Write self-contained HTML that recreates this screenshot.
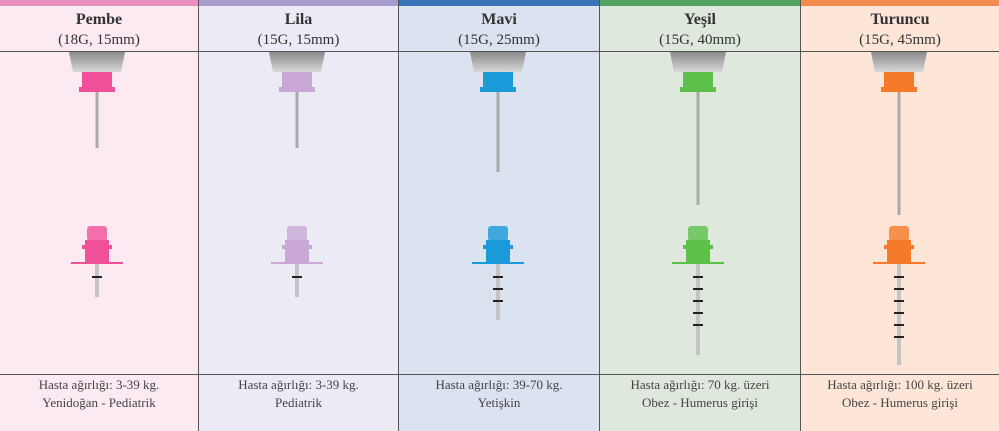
<!DOCTYPE html><html><head><meta charset="utf-8"><style>
body{margin:0;width:999px;height:431px;overflow:hidden;font-family:"Liberation Serif",serif}
.c{position:absolute;top:0;height:431px;box-sizing:border-box;border-right:1px solid #555}
.bar{height:6px}
.h{position:absolute;top:10px;width:100%;text-align:center;color:#333;font-size:15px;line-height:20px}
.h b{font-size:16px}
.f{position:absolute;top:376px;width:100%;text-align:center;color:#444;font-size:13px;line-height:18px}
.l1{position:absolute;left:0;top:51px;width:999px;height:1px;background:#555}
.l2{position:absolute;left:0;top:374px;width:999px;height:1px;background:#555}
svg{position:absolute;left:0;top:0}
</style></head><body>
<div class="c" style="left:0;width:199px;background:#fbeaf2"><div class="bar" style="background:#e98fbf"></div><div class="h"><b>Pembe</b><br>(18G, 15mm)</div><div class="f">Hasta ağırlığı: 3-39 kg.<br>Yenidoğan - Pediatrik</div></div>
<div class="c" style="left:199px;width:200px;background:#ecebf5"><div class="bar" style="background:#a89ccc"></div><div class="h"><b>Lila</b><br>(15G, 15mm)</div><div class="f">Hasta ağırlığı: 3-39 kg.<br>Pediatrik</div></div>
<div class="c" style="left:399px;width:201px;background:#dbe2f0"><div class="bar" style="background:#3a74b7"></div><div class="h"><b>Mavi</b><br>(15G, 25mm)</div><div class="f">Hasta ağırlığı: 39-70 kg.<br>Yetişkin</div></div>
<div class="c" style="left:600px;width:201px;background:#dfe8dc"><div class="bar" style="background:#52a462"></div><div class="h"><b>Yeşil</b><br>(15G, 40mm)</div><div class="f">Hasta ağırlığı: 70 kg. üzeri<br>Obez - Humerus girişi</div></div>
<div class="c" style="left:801px;width:198px;background:#fde6d8;border-right:none"><div class="bar" style="background:#f08a4e"></div><div class="h"><b>Turuncu</b><br>(15G, 45mm)</div><div class="f">Hasta ağırlığı: 100 kg. üzeri<br>Obez - Humerus girişi</div></div>
<div class="l1"></div><div class="l2"></div>
<svg width="999" height="431">
<defs><linearGradient id="g" x1="0" y1="0" x2="0" y2="1"><stop offset="0" stop-color="#8a8a8a"/><stop offset="1" stop-color="#d8d8d8"/></linearGradient></defs>
<g transform="translate(97,0)" fill="#f0509a">
<polygon points="-28,52 28,52 24,72 -24,72" fill="url(#g)"/><rect x="-15" y="72" width="30" height="17"/><rect x="-18" y="87" width="36" height="5"/><rect x="-1.5" y="92" width="3" height="56" fill="#aaa"/>
<rect x="-10" y="226" width="20" height="15" rx="3" opacity=".8"/><rect x="-12" y="240" width="24" height="23"/><rect x="-15" y="245" width="30" height="4"/><rect x="-26" y="262" width="52" height="2"/><rect x="-2" y="264" width="4" height="33" fill="#c4c4c4"/><rect x="-5" y="276" width="10" height="2" fill="#222"/></g>
<g transform="translate(297,0)" fill="#c9a8d6">
<polygon points="-28,52 28,52 24,72 -24,72" fill="url(#g)"/><rect x="-15" y="72" width="30" height="17"/><rect x="-18" y="87" width="36" height="5"/><rect x="-1.5" y="92" width="3" height="56" fill="#aaa"/>
<rect x="-10" y="226" width="20" height="15" rx="3" opacity=".8"/><rect x="-12" y="240" width="24" height="23"/><rect x="-15" y="245" width="30" height="4"/><rect x="-26" y="262" width="52" height="2"/><rect x="-2" y="264" width="4" height="33" fill="#c4c4c4"/><rect x="-5" y="276" width="10" height="2" fill="#222"/></g>
<g transform="translate(498,0)" fill="#1a9ad8">
<polygon points="-28,52 28,52 24,72 -24,72" fill="url(#g)"/><rect x="-15" y="72" width="30" height="17"/><rect x="-18" y="87" width="36" height="5"/><rect x="-1.5" y="92" width="3" height="80" fill="#aaa"/>
<rect x="-10" y="226" width="20" height="15" rx="3" opacity=".8"/><rect x="-12" y="240" width="24" height="23"/><rect x="-15" y="245" width="30" height="4"/><rect x="-26" y="262" width="52" height="2"/><rect x="-2" y="264" width="4" height="56" fill="#c4c4c4"/><g fill="#222"><rect x="-5" y="276" width="10" height="2"/><rect x="-5" y="288" width="10" height="2"/><rect x="-5" y="300" width="10" height="2"/></g></g>
<g transform="translate(698,0)" fill="#5cc04a">
<polygon points="-28,52 28,52 24,72 -24,72" fill="url(#g)"/><rect x="-15" y="72" width="30" height="17"/><rect x="-18" y="87" width="36" height="5"/><rect x="-1.5" y="92" width="3" height="113" fill="#aaa"/>
<rect x="-10" y="226" width="20" height="15" rx="3" opacity=".8"/><rect x="-12" y="240" width="24" height="23"/><rect x="-15" y="245" width="30" height="4"/><rect x="-26" y="262" width="52" height="2"/><rect x="-2" y="264" width="4" height="91" fill="#c4c4c4"/><g fill="#222"><rect x="-5" y="276" width="10" height="2"/><rect x="-5" y="288" width="10" height="2"/><rect x="-5" y="300" width="10" height="2"/><rect x="-5" y="312" width="10" height="2"/><rect x="-5" y="324" width="10" height="2"/></g></g>
<g transform="translate(899,0)" fill="#f57a2a">
<polygon points="-28,52 28,52 24,72 -24,72" fill="url(#g)"/><rect x="-15" y="72" width="30" height="17"/><rect x="-18" y="87" width="36" height="5"/><rect x="-1.5" y="92" width="3" height="123" fill="#aaa"/>
<rect x="-10" y="226" width="20" height="15" rx="3" opacity=".8"/><rect x="-12" y="240" width="24" height="23"/><rect x="-15" y="245" width="30" height="4"/><rect x="-26" y="262" width="52" height="2"/><rect x="-2" y="264" width="4" height="101" fill="#c4c4c4"/><g fill="#222"><rect x="-5" y="276" width="10" height="2"/><rect x="-5" y="288" width="10" height="2"/><rect x="-5" y="300" width="10" height="2"/><rect x="-5" y="312" width="10" height="2"/><rect x="-5" y="324" width="10" height="2"/><rect x="-5" y="336" width="10" height="2"/></g></g>
</svg>
</body></html>
